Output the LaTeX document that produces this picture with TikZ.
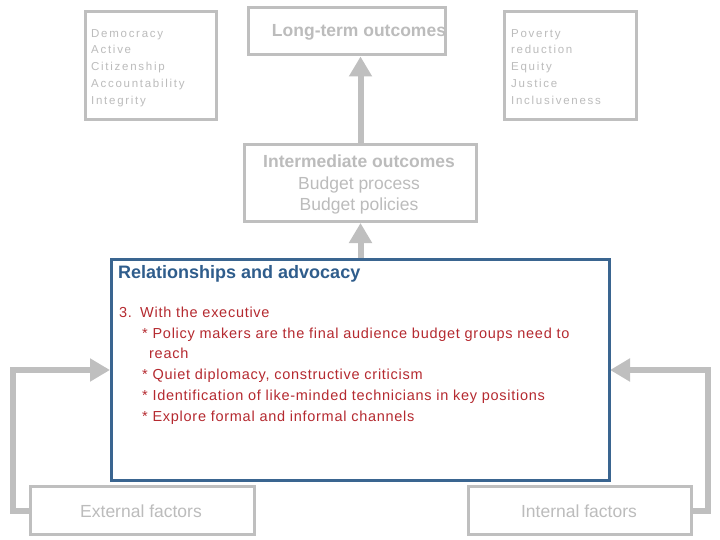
\documentclass[tikz,border=0pt]{standalone}
\usepackage{fontspec}
\setmainfont{Liberation Sans}
\usetikzlibrary{arrows.meta}
\definecolor{gbox}{HTML}{BFBFBF}
\definecolor{gtext}{HTML}{BCBCBC}
\definecolor{bluec}{HTML}{3A6590}
\definecolor{titleblue}{HTML}{2F5D8C}
\definecolor{redc}{HTML}{B52A30}
\tikzset{
  gbox/.style={draw=gbox, line width=3pt, fill=white},
  mainbox/.style={draw=bluec, line width=2.5pt, fill=white},
  garrow/.style={draw=gbox, line width=6pt, line join=miter,
    -{Triangle[width=22pt,length=20pt]}},
  smalltxt/.style={inner sep=0pt, anchor=base west, text=gtext,
    font=\fontsize{11.5}{14}\selectfont\addfontfeatures{LetterSpace=15}},
  bigtxt/.style={inner sep=0pt, anchor=base, text=gtext,
    font=\fontsize{17.5}{21}\selectfont},
  redtxt/.style={inner sep=0pt, anchor=base west, text=redc,
    font=\fontsize{14.5}{18}\selectfont\addfontfeatures{LetterSpace=5}},
}
\begin{document}
\begin{tikzpicture}[x=1pt,y=-1pt]
\useasboundingbox (0,0) rectangle (720,540);
% boxes
\node[gbox, minimum width=131pt, minimum height=108pt, anchor=north west] (demo) at (83.5,10.5) {};
\node[gbox, minimum width=197pt, minimum height=47pt, anchor=north west] (long) at (246.5,6.5) {};
\node[gbox, minimum width=132pt, minimum height=108pt, anchor=north west] (pov) at (502.5,10.5) {};
\node[gbox, minimum width=232pt, minimum height=77pt, anchor=north west] (inter) at (243,143) {};
\node[gbox, minimum width=224pt, minimum height=48pt, anchor=north west] (ext) at (29,485) {};
\node[gbox, minimum width=223pt, minimum height=48pt, anchor=north west] (int) at (467,485) {};
% connectors
\coordinate (lc) at (13,370);
\coordinate (rc) at (708,370);
\draw[garrow] (ext.west) -| (lc) -- (110,370);
\draw[garrow] (int.east) -| (rc) -- (610,370);
\draw[garrow] (inter.north) -- (inter.north |- long.south);
\node[mainbox, minimum width=498pt, minimum height=221pt, anchor=north west] (main) at (110,258) {};
\draw[garrow] (main.north -| inter.north) -- (inter.south);
% texts
\node[smalltxt] (d1) at (91,38) {Democracy};
\node[smalltxt] (d2) at (91,54) {Active};
\node[smalltxt] (d3) at (91,71) {Citizenship};
\node[smalltxt] (d4) at (91,88) {Accountability};
\node[smalltxt] (d5) at (91,105) {Integrity};
\node[smalltxt] (p1) at (511,38) {Poverty};
\node[smalltxt] (p2) at (511,54) {reduction};
\node[smalltxt] (p3) at (511,71) {Equity};
\node[smalltxt] (p4) at (511,88) {Justice};
\node[smalltxt] (p5) at (511,105) {Inclusiveness};
\node[bigtxt, font=\fontsize{17.5}{21}\selectfont\bfseries] (lt) at (359,37) {Long-term outcomes};
\node[bigtxt, font=\fontsize{17.5}{21}\selectfont\bfseries] (i1) at (359,168) {Intermediate outcomes};
\node[bigtxt] (i2) at (359,190) {Budget process};
\node[bigtxt] (i3) at (359,211) {Budget policies};
\node[inner sep=0pt, anchor=base west, text=titleblue, font=\fontsize{18}{21}\selectfont\bfseries] (rt) at (118,278) {Relationships and advocacy};
\node[redtxt] (r1) at (119,317) {3.};
\node[redtxt] (r1b) at (140,317) {With the executive};
\node[redtxt] (r2) at (142,338) {* Policy makers are the final audience budget groups need to};
\node[redtxt] (r3) at (149,358) {reach};
\node[redtxt] (r4) at (142,379) {* Quiet diplomacy, constructive criticism};
\node[redtxt] (r5) at (142,400) {* Identification of like-minded technicians in key positions};
\node[redtxt] (r6) at (142,421) {* Explore formal and informal channels};
\node[bigtxt] (et) at (141,517) {External factors};
\node[bigtxt] (it) at (579,517) {Internal factors};
\end{tikzpicture}
\end{document}
